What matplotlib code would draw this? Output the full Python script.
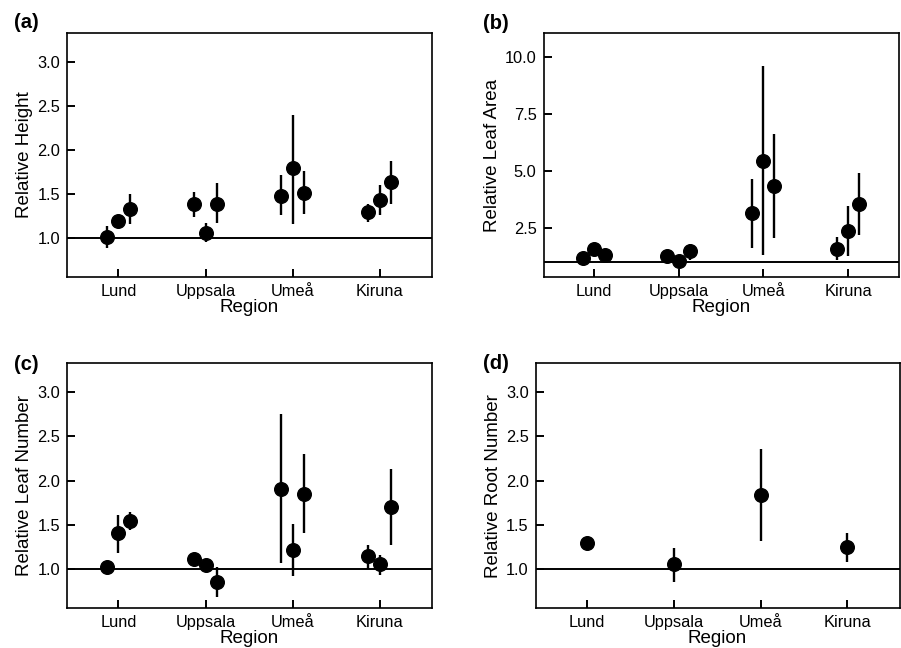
import matplotlib
matplotlib.use("Agg")
import matplotlib.pyplot as plt
import numpy as np
from matplotlib.ticker import FormatStrFormatter

plt.rcParams['font.family'] = ['Liberation Sans', 'DejaVu Sans']

regions = ["Lund", "Uppsala", "Ume\u00e5", "Kiruna"]
offsets = [-0.13, 0.0, 0.13]

# (a) Relative Height: per region, three points (mean, lower, upper)
height_mean = [[1.01, 1.19, 1.33], [1.38, 1.06, 1.39], [1.48, 1.79, 1.51], [1.29, 1.43, 1.63]]
height_lo = [[0.88, 1.15, 1.16], [1.24, 0.95, 1.17], [1.26, 1.16, 1.27], [1.18, 1.26, 1.39]]
height_hi = [[1.14, 1.23, 1.50], [1.52, 1.17, 1.62], [1.71, 2.40, 1.76], [1.39, 1.60, 1.87]]

# (b) Relative Leaf Area
area_mean = [[1.19, 1.59, 1.30], [1.27, 1.03, 1.49], [3.13, 5.45, 4.36], [1.59, 2.37, 3.54]]
area_lo = [[1.00, 1.40, 1.10], [1.10, 0.90, 1.10], [1.63, 1.31, 2.07], [1.10, 1.25, 2.19]]
area_hi = [[1.35, 1.75, 1.45], [1.40, 1.15, 1.81], [4.64, 9.62, 6.63], [2.09, 3.47, 4.91]]

# (c) Relative Leaf Number
leaf_mean = [[1.02, 1.40, 1.54], [1.11, 1.04, 0.85], [1.91, 1.21, 1.85], [1.14, 1.05, 1.70]]
leaf_lo = [[0.98, 1.18, 1.44], [1.05, 1.00, 0.68], [1.06, 0.92, 1.40], [1.00, 0.93, 1.27]]
leaf_hi = [[1.06, 1.61, 1.64], [1.18, 1.08, 1.02], [2.76, 1.51, 2.30], [1.27, 1.16, 2.13]]

# (d) Relative Root Number: one point per region
root_mean = [1.29, 1.05, 1.84, 1.25]
root_lo = [1.25, 0.85, 1.31, 1.08]
root_hi = [1.33, 1.23, 2.36, 1.41]

fig = plt.figure(figsize=(9.01, 6.48), dpi=100)

W, H = 901.0, 648.0
def rect(l, r, t, b):
    return [l / W, 1 - b / H, (r - l) / W, (b - t) / H]

axa = fig.add_axes(rect(67, 432, 33, 277))
axb = fig.add_axes(rect(543.5, 899.3, 33, 277))
axc = fig.add_axes(rect(67, 432, 363.3, 608))
axd = fig.add_axes(rect(535.7, 899.5, 363.3, 608))

def draw_group(ax, mean, lo, hi, offs):
    for i in range(len(regions)):
        for j, off in enumerate(offs):
            m = mean[i][j] if offs is offsets else mean[i]
            l = lo[i][j] if offs is offsets else lo[i]
            h = hi[i][j] if offs is offsets else hi[i]
            ax.errorbar(i + off, m, yerr=[[m - l], [h - m]], fmt='o', color='black',
                        ms=9.8, elinewidth=1.7, capsize=0, zorder=3)

def style(ax, ylabel, ylim, yticks):
    ax.axhline(1.0, color='black', lw=1.4, zorder=2)
    ax.set_xlim(-0.59, 3.6)
    ax.set_ylim(*ylim)
    ax.set_yticks(yticks)
    ax.yaxis.set_major_formatter(FormatStrFormatter('%.1f'))
    ax.set_xticks(range(len(regions)))
    ax.set_xticklabels(regions)
    ax.tick_params(direction='in', length=5.5, width=1.4, labelsize=11.8, pad=5)
    for s in ax.spines.values():
        s.set_linewidth(1.2)
    ax.set_xlabel("Region", fontsize=13.5, labelpad=0)
    ax.set_ylabel(ylabel, fontsize=13.5, labelpad=3)

draw_group(axa, height_mean, height_lo, height_hi, offsets)
style(axa, "Relative Height", (0.555, 3.33), [1.0, 1.5, 2.0, 2.5, 3.0])

draw_group(axb, area_mean, area_lo, area_hi, offsets)
style(axb, "Relative Leaf Area", (0.34, 11.06), [2.5, 5.0, 7.5, 10.0])

draw_group(axc, leaf_mean, leaf_lo, leaf_hi, offsets)
style(axc, "Relative Leaf Number", (0.555, 3.33), [1.0, 1.5, 2.0, 2.5, 3.0])

draw_group(axd, root_mean, root_lo, root_hi, [0.0])
style(axd, "Relative Root Number", (0.555, 3.33), [1.0, 1.5, 2.0, 2.5, 3.0])

for lbl, x, y in [("(a)", 14, 13), ("(b)", 483, 14), ("(c)", 14, 355), ("(d)", 482.7, 354)]:
    fig.text(x / W, 1 - y / H, lbl, fontsize=14.5, fontweight='bold', va='top', ha='left')

fig.savefig("out.png", dpi=100)
